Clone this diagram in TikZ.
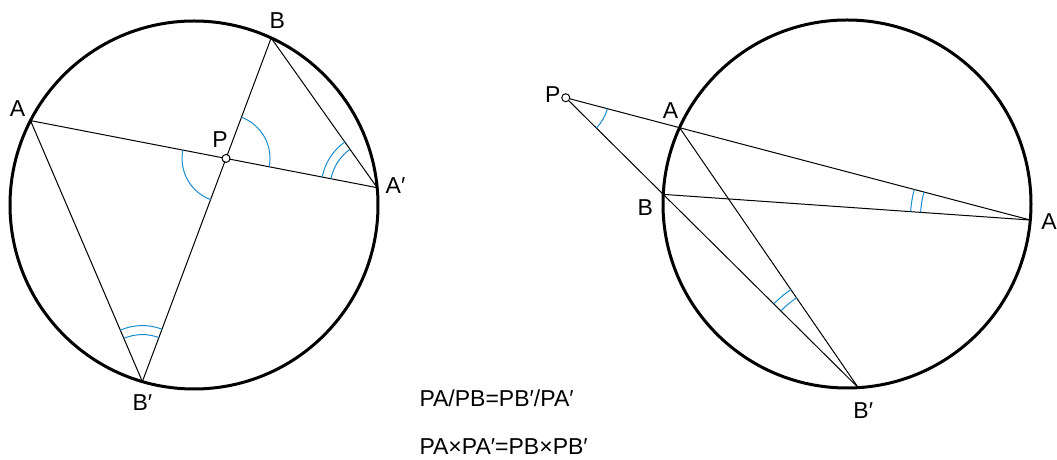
\documentclass[tikz,border=0pt]{standalone}
\usepackage{fontspec}
\setmainfont{Liberation Sans}
\definecolor{arcblue}{RGB}{25,140,205}

\begin{document}
\begin{tikzpicture}[x=0.5pt, y=0.5pt, line width=0.5pt,
  rim/.style={line width=1.5pt},
  angmark/.style={arcblue, line width=0.5pt},
  lbl/.style={font=\fontsize{11.5}{13.5}\selectfont, inner sep=0pt},
  pdot/.style={circle, draw, fill=white, inner sep=0pt, minimum size=4pt, line width=0.5pt}]
  \useasboundingbox (0,0) rectangle (1057,460);

  % left circle: P inside
  \coordinate (lO) at (194,255);
  \coordinate (lA) at ([shift=(152.7:184)]lO);
  \coordinate (lB) at ([shift=(65.2:184)]lO);
  \coordinate (lAp) at ([shift=(5.4:184)]lO);
  \coordinate (lBp) at ([shift=(253.7:184)]lO);
  \coordinate (lP) at (intersection of lA--lAp and lB--lBp);
  \draw[rim] (lO) circle (184);
  \draw (lA) -- (lAp);
  \draw (lB) -- (lBp);
  \draw (lA) -- (lBp);
  \draw (lB) -- (lAp);
  \draw[angmark] ([shift=(-10.9:44)]lP) arc (-10.9:69.4:44);
  \draw[angmark] ([shift=(169:44)]lP) arc (169:249.5:44);
  \draw[angmark] ([shift=(125.3:47)]lAp) arc (125.3:169.1:47);
  \draw[angmark] ([shift=(125.3:56)]lAp) arc (125.3:169.1:56);
  \draw[angmark] ([shift=(69.5:47)]lBp) arc (69.5:113.3:47);
  \draw[angmark] ([shift=(69.5:56)]lBp) arc (69.5:113.3:56);
  \node[pdot] (lPdot) at (lP) {};
  \node[lbl] (lAlbl) at ([shift={(-13,12)}]lA) {A};
  \node[lbl] (lBlbl) at ([shift={(6,17)}]lB) {B};
  \node[lbl] (lPlbl) at ([shift={(-6,19)}]lP) {P};
  \node[lbl, anchor=west] (lAplbl) at ([shift={(8,2)}]lAp) {A′};
  \node[lbl] (lBplbl) at ([shift={(0,-21)}]lBp) {B′};

  % right circle: P outside
  \coordinate (rO) at (847,256);
  \coordinate (rA) at ([shift=(155.5:184)]rO);
  \coordinate (rB) at ([shift=(177:184)]rO);
  \coordinate (rAp) at ([shift=(-5:184)]rO);
  \coordinate (rBp) at ([shift=(-86.5:184)]rO);
  \coordinate (rP) at (intersection of rA--rAp and rB--rBp);
  \draw[rim] (rO) circle (184);
  \node[pdot] (rPdot) at (rP) {};
  \draw (rPdot) -- (rAp);
  \draw (rPdot) -- (rBp);
  \draw (rA) -- (rBp);
  \draw (rB) -- (rAp);
  \draw[angmark] ([shift=(-44.8:43)]rP) arc (-44.8:-14.7:43);
  \draw[angmark] ([shift=(165.3:110)]rAp) arc (165.3:176:110);
  \draw[angmark] ([shift=(165.3:120)]rAp) arc (165.3:176:120);
  \draw[angmark] ([shift=(124.5:109)]rBp) arc (124.5:135.2:109);
  \draw[angmark] ([shift=(124.5:119)]rBp) arc (124.5:135.2:119);
  \node[lbl] (rPlbl) at ([shift={(-13,3)}]rP) {P};
  \node[lbl] (rAlbl) at ([shift={(-9,17)}]rA) {A};
  \node[lbl] (rBlbl) at ([shift={(-18,-13)}]rB) {B};
  \node[lbl, anchor=west] (rAplbl) at ([shift={(10.5,-2)}]rAp) {A′};
  \node[lbl] (rBplbl) at ([shift={(5,-23)}]rBp) {B′};

  % relations
  \node[lbl, anchor=base west] (ratio) at (419,53) {PA/PB=PB′/PA′};
  \node[lbl, anchor=base west] (product) at (419,5) {PA×PA′=PB×PB′};
\end{tikzpicture}
\end{document}
